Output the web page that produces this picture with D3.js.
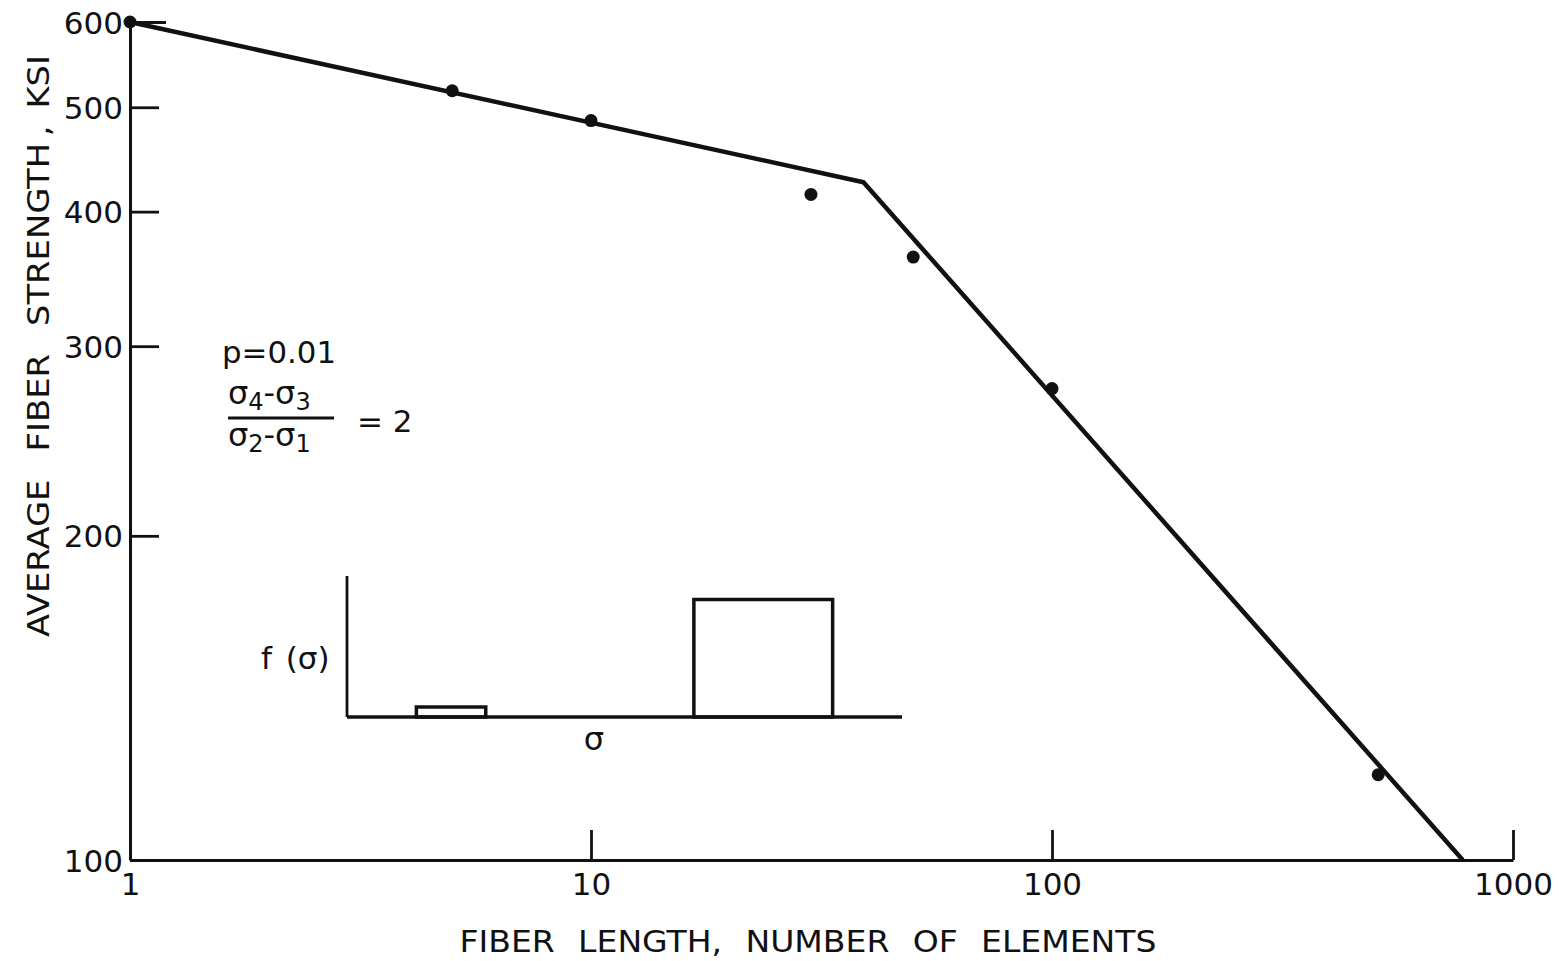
<!DOCTYPE html>
<html>
<head>
<meta charset="utf-8">
<script src="https://cdn.jsdelivr.net/npm/d3@7"></script>
<style>
  body { margin: 0; background: #fff; }
  text { font-family: "DejaVu Sans", "Liberation Sans", sans-serif; fill: #111; }
</style>
</head>
<body>
<div id="graph"></div>
<script>
// measured points: fiber length (elements) vs average strength (ksi)
const lengths = [1, 5, 10, 30, 50, 100, 510];
const strengths = [600, 518, 486, 415, 363, 274, 120];

// fitted bilinear line (log-log)
const lineX = [1, 39, 778];
const lineY = [600, 426, 100];

const xTicks = [1, 10, 100, 1000];
const yTicks = [100, 200, 300, 400, 500, 600];

// inset: strength distribution f(sigma), two uniform blocks
const insetStart = [1, 5];
const insetEnd = [2, 7];
const insetF = [0.085, 1.0];

const margin = { top: 22, right: 46, bottom: 101, left: 130 },
	width = 1559 - margin.left - margin.right,
	height = 961 - margin.top - margin.bottom;

const svg = d3
	.select("#graph")
	.append("svg")
	.attr("width", 1559)
	.attr("height", 961)
	.style("display", "block");

const g = svg
	.append("g")
	.attr("transform", "translate(" + margin.left + "," + margin.top + ")");

const x = d3.scaleLog().domain([1, 1000]).range([0, width]);
const y = d3.scaleLog().domain([100, 600]).range([height, 0]);

// x axis, ticks pointing up into the plot
const xAxis = g
	.append("g")
	.attr("transform", "translate(0," + height + ")")
	.call(
		d3.axisBottom(x)
			.tickValues(xTicks)
			.tickFormat(d3.format("d"))
			.tickSizeInner(-30)
			.tickSizeOuter(0)
			.tickPadding(13)
	);

// y axis, ticks pointing right
const yAxis = g
	.append("g")
	.call(
		d3.axisLeft(y)
			.tickValues(yTicks)
			.tickFormat(d3.format("d"))
			.tickSizeInner(-29)
			.tickSizeOuter(0)
			.tickPadding(7)
	);

[xAxis, yAxis].forEach((a) => {
	a.select(".domain").attr("stroke", "#111").attr("stroke-width", 3);
	a.selectAll(".tick line").attr("stroke", "#111").attr("stroke-width", 2.8);
	a.selectAll(".tick text")
		.style("font-size", "31px")
		.style("font-family", "DejaVu Sans, sans-serif")
		.attr("fill", "#111");
});
yAxis.selectAll(".tick text").attr("dy", "0.36em");
xAxis.selectAll(".tick text").attr("dy", "0.72em");
// the 600 tick is a bit longer
yAxis.selectAll(".tick line").filter((d) => d === 600).attr("x2", 36);

// fitted line
const linePts = lineX.map((d, i) => [x(d), y(lineY[i])]);
g.append("path")
	.attr("d", d3.line()(linePts))
	.attr("fill", "none")
	.attr("stroke", "#111")
	.attr("stroke-width", 4.5)
	.attr("stroke-linejoin", "round");

// data points
g.selectAll("circle.pt")
	.data(lengths)
	.enter()
	.append("circle")
	.attr("class", "pt")
	.attr("cx", (d) => x(d))
	.attr("cy", (d, i) => y(strengths[i]))
	.attr("r", 6.5)
	.attr("fill", "#111");

// axis titles
svg.append("text")
	.attr("x", 808)
	.attr("y", 952)
	.attr("text-anchor", "middle")
	.attr("textLength", 697)
	.attr("lengthAdjust", "spacingAndGlyphs")
	.style("font-size", "31px")
	.style("word-spacing", "12px")
	.text("FIBER LENGTH, NUMBER OF ELEMENTS");

svg.append("text")
	.attr("transform", "translate(49,346) rotate(-90)")
	.attr("text-anchor", "middle")
	.attr("textLength", 582)
	.attr("lengthAdjust", "spacingAndGlyphs")
	.style("font-size", "31px")
	.style("word-spacing", "16px")
	.text("AVERAGE FIBER STRENGTH\u2009,\u2002KSI");

// annotation
svg.append("text")
	.attr("x", 222)
	.attr("y", 363)
	.attr("textLength", 114)
	.attr("lengthAdjust", "spacingAndGlyphs")
	.style("font-size", "30px")
	.text("p=0.01");

const num = svg.append("text").attr("x", 228).attr("y", 404).style("font-size", "32px");
num.append("tspan").text("σ");
num.append("tspan").attr("dy", 6).style("font-size", "24px").text("4");
num.append("tspan").attr("dy", -6).text("-σ");
num.append("tspan").attr("dy", 6).style("font-size", "24px").text("3");

svg.append("line")
	.attr("x1", 228).attr("x2", 334)
	.attr("y1", 418).attr("y2", 418)
	.attr("stroke", "#111").attr("stroke-width", 2.8);

const den = svg.append("text").attr("x", 228).attr("y", 446).style("font-size", "32px");
den.append("tspan").text("σ");
den.append("tspan").attr("dy", 6).style("font-size", "24px").text("2");
den.append("tspan").attr("dy", -6).text("-σ");
den.append("tspan").attr("dy", 6).style("font-size", "24px").text("1");

svg.append("text")
	.attr("x", 357)
	.attr("y", 432)
	.style("font-size", "31px")
	.text("= 2");

// inset distribution sketch
const ix = d3.scaleLinear().domain([0, 8]).range([347, 902]);
const iy = d3.scaleLinear().domain([0, 1.2]).range([717, 576]);

const inset = svg.append("g");
inset.append("line")
	.attr("x1", ix(0)).attr("x2", ix(0))
	.attr("y1", iy(1.2)).attr("y2", iy(0))
	.attr("stroke", "#111").attr("stroke-width", 2.8);

inset.selectAll("rect")
	.data(insetStart)
	.enter()
	.append("rect")
	.attr("x", (d) => ix(d))
	.attr("width", (d, i) => ix(insetEnd[i]) - ix(d))
	.attr("y", (d, i) => iy(insetF[i]))
	.attr("height", (d, i) => iy(0) - iy(insetF[i]))
	.attr("fill", "none")
	.attr("stroke", "#111")
	.attr("stroke-width", 3.5);

inset.append("line")
	.attr("x1", ix(0)).attr("x2", ix(8))
	.attr("y1", iy(0)).attr("y2", iy(0))
	.attr("stroke", "#111").attr("stroke-width", 3.5);

inset.append("text")
	.attr("x", 261)
	.attr("y", 669)
	.style("font-size", "31px")
	.style("word-spacing", "4px")
	.text("f (σ)");

inset.append("text")
	.attr("x", 594)
	.attr("y", 750)
	.attr("text-anchor", "middle")
	.style("font-size", "32px")
	.text("σ");
</script>
</body>
</html>
